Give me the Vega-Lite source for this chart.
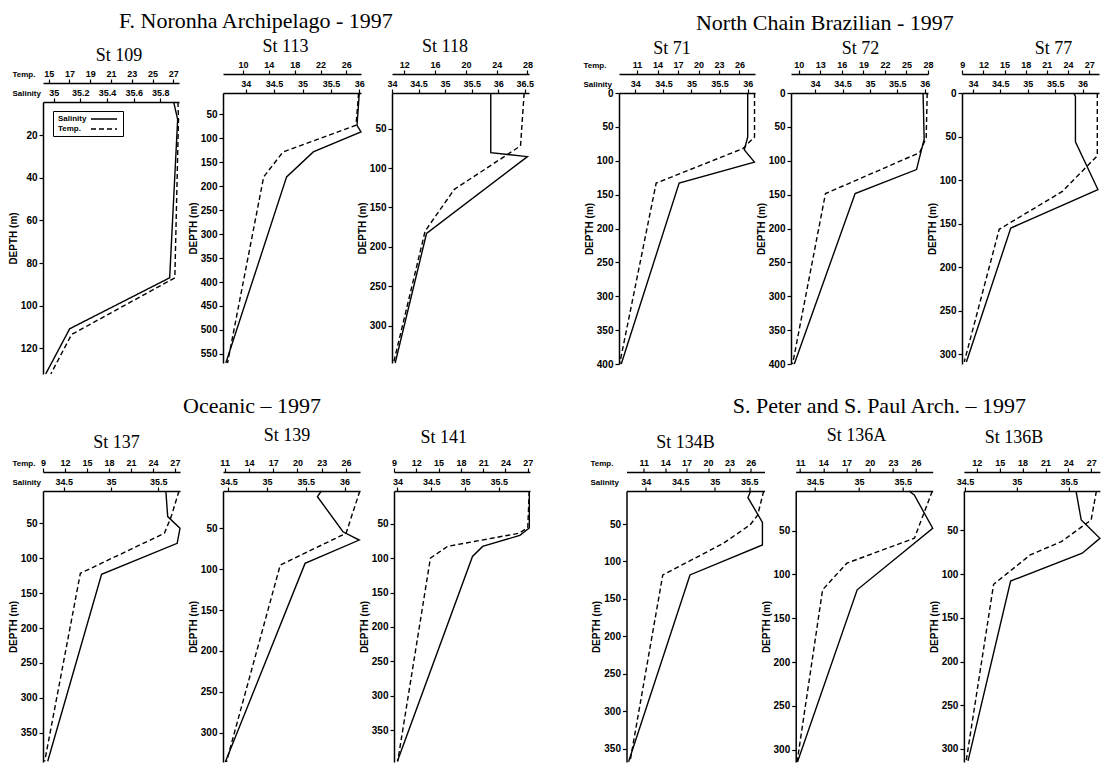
{
"$schema": "https://vega.github.io/schema/vega-lite/v6.json",
"background": "white",
"padding": {"left": 8, "top": 10, "right": 2, "bottom": 2},
"data": {"values": [
{"station":"St 109","var":"Salinity","depth":4.5,"value":35.90},
{"station":"St 109","var":"Salinity","depth":12.7,"value":35.93},
{"station":"St 109","var":"Salinity","depth":86.9,"value":35.87},
{"station":"St 109","var":"Salinity","depth":110.8,"value":35.12},
{"station":"St 109","var":"Salinity","depth":132,"value":34.94},
{"station":"St 109","var":"Temp.","depth":4.5,"value":27.45},
{"station":"St 109","var":"Temp.","depth":12.7,"value":27.5},
{"station":"St 109","var":"Temp.","depth":86.9,"value":27.15},
{"station":"St 109","var":"Temp.","depth":113.5,"value":17.2},
{"station":"St 109","var":"Temp.","depth":132,"value":15.2},
{"station":"St 113","var":"Salinity","depth":5.6,"value":36.0},
{"station":"St 113","var":"Salinity","depth":72.9,"value":35.96},
{"station":"St 113","var":"Salinity","depth":86.8,"value":36.03},
{"station":"St 113","var":"Salinity","depth":128.5,"value":35.19},
{"station":"St 113","var":"Salinity","depth":180.6,"value":34.72},
{"station":"St 113","var":"Salinity","depth":569,"value":33.65},
{"station":"St 113","var":"Temp.","depth":5.6,"value":27.9},
{"station":"St 113","var":"Temp.","depth":72.9,"value":27.5},
{"station":"St 113","var":"Temp.","depth":128.5,"value":16.2},
{"station":"St 113","var":"Temp.","depth":180.6,"value":13.2},
{"station":"St 113","var":"Temp.","depth":569,"value":7.6},
{"station":"St 118","var":"Salinity","depth":5,"value":35.86},
{"station":"St 118","var":"Salinity","depth":80.5,"value":35.86},
{"station":"St 118","var":"Salinity","depth":85.6,"value":36.55},
{"station":"St 118","var":"Salinity","depth":183,"value":34.65},
{"station":"St 118","var":"Salinity","depth":347,"value":34.06},
{"station":"St 118","var":"Temp.","depth":5,"value":27.57},
{"station":"St 118","var":"Temp.","depth":72,"value":27.1},
{"station":"St 118","var":"Temp.","depth":127,"value":18.5},
{"station":"St 118","var":"Temp.","depth":180,"value":14.7},
{"station":"St 118","var":"Temp.","depth":347,"value":10.6},
{"station":"St 71","var":"Salinity","depth":0,"value":36.0},
{"station":"St 71","var":"Salinity","depth":65,"value":36.0},
{"station":"St 71","var":"Salinity","depth":84,"value":35.94},
{"station":"St 71","var":"Salinity","depth":102,"value":36.12},
{"station":"St 71","var":"Salinity","depth":133,"value":34.78},
{"station":"St 71","var":"Salinity","depth":400,"value":33.75},
{"station":"St 71","var":"Temp.","depth":0,"value":28.2},
{"station":"St 71","var":"Temp.","depth":65,"value":28.2},
{"station":"St 71","var":"Temp.","depth":82,"value":26.5},
{"station":"St 71","var":"Temp.","depth":133,"value":13.8},
{"station":"St 71","var":"Temp.","depth":400,"value":8.45},
{"station":"St 72","var":"Salinity","depth":0,"value":35.97},
{"station":"St 72","var":"Salinity","depth":68,"value":35.99},
{"station":"St 72","var":"Salinity","depth":113,"value":35.85},
{"station":"St 72","var":"Salinity","depth":148.5,"value":34.73},
{"station":"St 72","var":"Salinity","depth":400,"value":33.62},
{"station":"St 72","var":"Temp.","depth":0,"value":27.89},
{"station":"St 72","var":"Temp.","depth":66,"value":27.75},
{"station":"St 72","var":"Temp.","depth":88,"value":26.84},
{"station":"St 72","var":"Temp.","depth":148.5,"value":13.72},
{"station":"St 72","var":"Temp.","depth":400,"value":9.14},
{"station":"St 77","var":"Salinity","depth":0,"value":35.84},
{"station":"St 77","var":"Salinity","depth":4,"value":35.87},
{"station":"St 77","var":"Salinity","depth":56,"value":35.87},
{"station":"St 77","var":"Salinity","depth":110.8,"value":36.28},
{"station":"St 77","var":"Salinity","depth":155,"value":34.69},
{"station":"St 77","var":"Salinity","depth":308.6,"value":33.88},
{"station":"St 77","var":"Temp.","depth":0,"value":28.16},
{"station":"St 77","var":"Temp.","depth":72,"value":28.16},
{"station":"St 77","var":"Temp.","depth":113,"value":23.2},
{"station":"St 77","var":"Temp.","depth":156.4,"value":14.24},
{"station":"St 77","var":"Temp.","depth":308.6,"value":9.28},
{"station":"St 137","var":"Salinity","depth":3.7,"value":35.58},
{"station":"St 137","var":"Salinity","depth":40.4,"value":35.6},
{"station":"St 137","var":"Salinity","depth":57.2,"value":35.73},
{"station":"St 137","var":"Salinity","depth":78.7,"value":35.7},
{"station":"St 137","var":"Salinity","depth":123,"value":34.9},
{"station":"St 137","var":"Salinity","depth":391,"value":34.33},
{"station":"St 137","var":"Temp.","depth":3.7,"value":27.56},
{"station":"St 137","var":"Temp.","depth":40.4,"value":26.5},
{"station":"St 137","var":"Temp.","depth":64.3,"value":25.57},
{"station":"St 137","var":"Temp.","depth":121.6,"value":14.1},
{"station":"St 137","var":"Temp.","depth":391,"value":9.23},
{"station":"St 139","var":"Salinity","depth":4.3,"value":35.7},
{"station":"St 139","var":"Salinity","depth":11.2,"value":35.65},
{"station":"St 139","var":"Salinity","depth":54.2,"value":35.98},
{"station":"St 139","var":"Salinity","depth":64.3,"value":36.19},
{"station":"St 139","var":"Salinity","depth":92.9,"value":35.49},
{"station":"St 139","var":"Salinity","depth":336,"value":34.46},
{"station":"St 139","var":"Temp.","depth":4.3,"value":27.7},
{"station":"St 139","var":"Temp.","depth":56,"value":26.0},
{"station":"St 139","var":"Temp.","depth":95,"value":17.87},
{"station":"St 139","var":"Temp.","depth":336,"value":11.22},
{"station":"St 141","var":"Salinity","depth":2.6,"value":35.95},
{"station":"St 141","var":"Salinity","depth":56.3,"value":35.95},
{"station":"St 141","var":"Salinity","depth":67,"value":35.81},
{"station":"St 141","var":"Salinity","depth":83,"value":35.26},
{"station":"St 141","var":"Salinity","depth":97.7,"value":35.11},
{"station":"St 141","var":"Salinity","depth":395,"value":34.0},
{"station":"St 141","var":"Temp.","depth":2.6,"value":27.2},
{"station":"St 141","var":"Temp.","depth":56,"value":27.0},
{"station":"St 141","var":"Temp.","depth":64,"value":25.8},
{"station":"St 141","var":"Temp.","depth":83,"value":16.2},
{"station":"St 141","var":"Temp.","depth":100,"value":13.9},
{"station":"St 141","var":"Temp.","depth":395,"value":9.5},
{"station":"St 134B","var":"Salinity","depth":5.8,"value":35.52},
{"station":"St 134B","var":"Salinity","depth":14.6,"value":35.48},
{"station":"St 134B","var":"Salinity","depth":47.7,"value":35.69},
{"station":"St 134B","var":"Salinity","depth":78,"value":35.69},
{"station":"St 134B","var":"Salinity","depth":118,"value":34.64},
{"station":"St 134B","var":"Salinity","depth":367.7,"value":33.75},
{"station":"St 134B","var":"Temp.","depth":5.8,"value":27.8},
{"station":"St 134B","var":"Temp.","depth":38,"value":26.95},
{"station":"St 134B","var":"Temp.","depth":51,"value":25.9},
{"station":"St 134B","var":"Temp.","depth":76,"value":22.1},
{"station":"St 134B","var":"Temp.","depth":118,"value":13.66},
{"station":"St 134B","var":"Temp.","depth":367.7,"value":9.07},
{"station":"St 136A","var":"Salinity","depth":4.9,"value":35.57},
{"station":"St 136A","var":"Salinity","depth":9.4,"value":35.63},
{"station":"St 136A","var":"Salinity","depth":47.4,"value":35.84},
{"station":"St 136A","var":"Salinity","depth":117.6,"value":34.98},
{"station":"St 136A","var":"Salinity","depth":314,"value":34.3},
{"station":"St 136A","var":"Temp.","depth":4.9,"value":28.1},
{"station":"St 136A","var":"Temp.","depth":58.8,"value":25.78},
{"station":"St 136A","var":"Temp.","depth":87.2,"value":17.04},
{"station":"St 136A","var":"Temp.","depth":117.6,"value":13.9},
{"station":"St 136A","var":"Temp.","depth":314,"value":10.6},
{"station":"St 136B","var":"Salinity","depth":4.8,"value":35.57},
{"station":"St 136B","var":"Salinity","depth":38,"value":35.62},
{"station":"St 136B","var":"Salinity","depth":43.7,"value":35.67},
{"station":"St 136B","var":"Salinity","depth":59,"value":35.8},
{"station":"St 136B","var":"Salinity","depth":76,"value":35.63},
{"station":"St 136B","var":"Salinity","depth":107.8,"value":34.94},
{"station":"St 136B","var":"Salinity","depth":313.7,"value":34.53},
{"station":"St 136B","var":"Temp.","depth":4.8,"value":27.69},
{"station":"St 136B","var":"Temp.","depth":38,"value":27.0},
{"station":"St 136B","var":"Temp.","depth":62.7,"value":23.1},
{"station":"St 136B","var":"Temp.","depth":78,"value":19.0},
{"station":"St 136B","var":"Temp.","depth":111.6,"value":14.2},
{"station":"St 136B","var":"Temp.","depth":313.7,"value":10.6}
]},
"config": {
  "view": {"stroke": null},
  "font": "Liberation Sans",
  "title": {"font": "Liberation Serif", "fontWeight": "normal", "color": "black", "fontSize": 18, "anchor": "middle"},
  "axis": {"domainColor": "black", "tickColor": "black", "labelColor": "black", "titleColor": "black", "labelFont": "Liberation Sans", "labelFontWeight": "bold", "titleFont": "Liberation Sans", "titleFontWeight": "bold", "grid": false, "tickSize": 4, "domainWidth": 1.5, "tickWidth": 1.2, "labelFlush": false, "labelOverlap": false},
  "axisX": {"labelFontSize": 9, "labelPadding": 1, "titleFontSize": 8},
  "axisY": {"labelFontSize": 10, "titleFontSize": 10, "labelPadding": 2, "titlePadding": 2},
  "line": {"color": "black", "strokeWidth": 1.4}
},
"resolve": {"scale": {"strokeDash": "independent"}, "legend": {"strokeDash": "independent"}},
"spacing": 18,
"vconcat": [
 {
  "spacing": 49,
  "resolve": {"scale": {"strokeDash": "independent"}, "legend": {"strokeDash": "independent"}},
  "hconcat": [
   {
    "title": {"text": "F. Noronha Archipelago - 1997", "fontSize": 22, "anchor": "middle", "frame": "bounds", "dx": -15, "offset": 5},
    "spacing": 6,
    "resolve": {"scale": {"strokeDash": "independent"}, "legend": {"strokeDash": "independent"}},
    "hconcat": [
     {
      "vconcat": [
       {"width": 1, "height": 1, "data": {"values": []}, "mark": {"type": "point", "opacity": 0}},
       {
        "title": {"text": "St 109", "offset": 4, "dx": 8, "frame": "group"},
        "width": 136, "height": 272,
        "transform": [{"filter": "datum.station === 'St 109'"}],
        "encoding": {
          "y": {"field": "depth", "type": "quantitative", "scale": {"domain": [4.5, 132], "reverse": true, "nice": false, "zero": false}, "axis": {"title": "DEPTH (m)", "values": [20,40,60,80,100,120]}},
          "order": {"field": "depth", "type": "quantitative"}
        },
        "layer": [
         {"transform": [{"filter": "datum.var === 'Salinity'"}], "mark": "line",
          "encoding": {
            "x": {"field": "value", "type": "quantitative", "scale": {"domain": [34.92, 35.94], "nice": false, "zero": false}, "axis": {"orient": "top", "values": [35,35.2,35.4,35.6,35.8], "format": "~g", "title": "Salinity", "titleX": -31, "titleY": -7, "titleAlign": "left", "titleAngle": 0, "titleBaseline": "alphabetic"}},
            "strokeDash": {"field": "var", "type": "nominal", "scale": {"domain": ["Salinity", "Temp."], "range": [[1,0],[5,3]]},
              "legend": {"orient": "none", "legendX": 10, "legendY": 9, "title": null, "direction": "vertical", "strokeColor": "black", "fillColor": "white", "padding": 3, "symbolType": "M7.5,0H14", "symbolSize": 64, "symbolStrokeWidth": 1.3, "symbolStrokeColor": "black", "symbolFillColor": "transparent", "labelFont": "Liberation Sans", "labelFontWeight": "bold", "labelFontSize": 8, "labelColor": "black", "symbolOffset": 0, "labelOffset": -8, "rowPadding": 1}}
          }},
         {"transform": [{"filter": "datum.var === 'Temp.'"}], "mark": "line",
          "encoding": {
            "x": {"field": "value", "type": "quantitative", "scale": {"domain": [14.45, 27.55], "nice": false, "zero": false}, "axis": {"orient": "top", "offset": 19, "values": [15,17,19,21,23,25,27], "format": "~g", "title": "Temp.", "titleX": -31, "titleY": -7, "titleAlign": "left", "titleAngle": 0, "titleBaseline": "alphabetic"}},
            "strokeDash": {"field": "var", "type": "nominal", "scale": {"domain": ["Salinity", "Temp."], "range": [[1,0],[5,3]]},
              "legend": {"orient": "none", "legendX": 10, "legendY": 9, "title": null, "direction": "vertical", "strokeColor": "black", "fillColor": "white", "padding": 3, "symbolType": "M7.5,0H14", "symbolSize": 64, "symbolStrokeWidth": 1.3, "symbolStrokeColor": "black", "symbolFillColor": "transparent", "labelFont": "Liberation Sans", "labelFontWeight": "bold", "labelFontSize": 8, "labelColor": "black", "symbolOffset": 0, "labelOffset": -8, "rowPadding": 1}}
          }}
        ],
        "resolve": {"scale": {"x": "independent"}}
       }
      ],
      "spacing": 8,
      "bounds": "flush",
      "resolve": {"scale": {"strokeDash": "independent"}, "legend": {"strokeDash": "independent"}}
     },
     {
      "spacing": -8,
      "hconcat": [
       {
        "title": {"text": "St 113", "offset": 4, "dx": -6.5, "frame": "group"},
        "width": 138, "height": 270,
        "transform": [{"filter": "datum.station === 'St 113'"}],
        "encoding": {
          "y": {"field": "depth", "type": "quantitative", "scale": {"domain": [5.6, 569], "reverse": true, "nice": false, "zero": false}, "axis": {"title": "DEPTH (m)", "values": [50,100,150,200,250,300,350,400,450,500,550]}},
          "order": {"field": "depth", "type": "quantitative"}
        },
        "layer": [
         {"transform": [{"filter": "datum.var === 'Salinity'"}], "mark": "line",
          "encoding": {"x": {"field": "value", "type": "quantitative", "scale": {"domain": [33.6, 36.03], "nice": false, "zero": false}, "axis": {"orient": "top", "values": [34,34.5,35,35.5,36], "format": "~g", "title": null}}}},
         {"transform": [{"filter": "datum.var === 'Temp.'"}], "mark": {"type": "line", "strokeDash": [5,3]},
          "encoding": {"x": {"field": "value", "type": "quantitative", "scale": {"domain": [6.9, 28.27], "nice": false, "zero": false}, "axis": {"orient": "top", "offset": 19, "values": [10,14,18,22,26], "format": "~g", "title": null}}}}
        ],
        "resolve": {"scale": {"x": "independent"}}
       },
       {
        "title": {"text": "St 118", "offset": 4, "dx": -15.5, "frame": "group"},
        "width": 137, "height": 270,
        "transform": [{"filter": "datum.station === 'St 118'"}],
        "encoding": {
          "y": {"field": "depth", "type": "quantitative", "scale": {"domain": [5, 347], "reverse": true, "nice": false, "zero": false}, "axis": {"title": "DEPTH (m)", "values": [50,100,150,200,250,300]}},
          "order": {"field": "depth", "type": "quantitative"}
        },
        "layer": [
         {"transform": [{"filter": "datum.var === 'Salinity'"}], "mark": "line",
          "encoding": {"x": {"field": "value", "type": "quantitative", "scale": {"domain": [34.0, 36.58], "nice": false, "zero": false}, "axis": {"orient": "top", "values": [34,34.5,35,35.5,36,36.5], "format": "~g", "title": null}}}},
         {"transform": [{"filter": "datum.var === 'Temp.'"}], "mark": {"type": "line", "strokeDash": [5,3]},
          "encoding": {"x": {"field": "value", "type": "quantitative", "scale": {"domain": [10.4, 28.2], "nice": false, "zero": false}, "axis": {"orient": "top", "offset": 19, "values": [12,16,20,24,28], "format": "~g", "title": null}}}}
        ],
        "resolve": {"scale": {"x": "independent"}}
       }
      ]
     }
    ]
   },
   {
    "title": {"text": "North Chain Brazilian - 1997", "fontSize": 22, "anchor": "middle", "frame": "bounds", "dx": -17, "offset": 5},
    "spacing": -2,
    "hconcat": [
     {
      "title": {"text": "St 71", "offset": 2, "dx": -15, "frame": "group"},
      "width": 136, "height": 271,
      "transform": [{"filter": "datum.station === 'St 71'"}],
      "encoding": {
        "y": {"field": "depth", "type": "quantitative", "scale": {"domain": [0, 400], "reverse": true, "nice": false, "zero": false}, "axis": {"title": "DEPTH (m)", "values": [0,50,100,150,200,250,300,350,400]}},
        "order": {"field": "depth", "type": "quantitative"}
      },
      "layer": [
       {"transform": [{"filter": "datum.var === 'Salinity'"}], "mark": "line",
        "encoding": {"x": {"field": "value", "type": "quantitative", "scale": {"domain": [33.71, 36.13], "nice": false, "zero": false}, "axis": {"orient": "top", "values": [34,34.5,35,35.5,36], "format": "~g", "title": "Salinity", "titleX": -36, "titleY": -7, "titleAlign": "left", "titleAngle": 0, "titleBaseline": "alphabetic"}}}},
       {"transform": [{"filter": "datum.var === 'Temp.'"}], "mark": {"type": "line", "strokeDash": [5,3]},
        "encoding": {"x": {"field": "value", "type": "quantitative", "scale": {"domain": [8.36, 28.27], "nice": false, "zero": false}, "axis": {"orient": "top", "offset": 19, "values": [11,14,17,20,23,26], "format": "~g", "title": "Temp.", "titleX": -36, "titleY": -7, "titleAlign": "left", "titleAngle": 0, "titleBaseline": "alphabetic"}}}}
      ],
      "resolve": {"scale": {"x": "independent"}}
     },
     {
      "spacing": -7,
      "hconcat": [
       {
        "title": {"text": "St 72", "offset": 2, "dx": 1, "frame": "group"},
        "width": 137, "height": 271,
        "transform": [{"filter": "datum.station === 'St 72'"}],
        "encoding": {
          "y": {"field": "depth", "type": "quantitative", "scale": {"domain": [0, 400], "reverse": true, "nice": false, "zero": false}, "axis": {"title": "DEPTH (m)", "values": [0,50,100,150,200,250,300,350,400]}},
          "order": {"field": "depth", "type": "quantitative"}
        },
        "layer": [
         {"transform": [{"filter": "datum.var === 'Salinity'"}], "mark": "line",
          "encoding": {"x": {"field": "value", "type": "quantitative", "scale": {"domain": [33.56, 36.06], "nice": false, "zero": false}, "axis": {"orient": "top", "values": [34,34.5,35,35.5,36], "format": "~g", "title": null}}}},
         {"transform": [{"filter": "datum.var === 'Temp.'"}], "mark": {"type": "line", "strokeDash": [5,3]},
          "encoding": {"x": {"field": "value", "type": "quantitative", "scale": {"domain": [8.92, 28.0], "nice": false, "zero": false}, "axis": {"orient": "top", "offset": 19, "values": [10,13,16,19,22,25,28], "format": "~g", "title": null}}}}
        ],
        "resolve": {"scale": {"x": "independent"}}
       },
       {
        "title": {"text": "St 77", "offset": 2, "dx": 23, "frame": "group"},
        "width": 137, "height": 271,
        "transform": [{"filter": "datum.station === 'St 77'"}],
        "encoding": {
          "y": {"field": "depth", "type": "quantitative", "scale": {"domain": [0, 311], "reverse": true, "nice": false, "zero": false}, "axis": {"title": "DEPTH (m)", "values": [0,50,100,150,200,250,300]}},
          "order": {"field": "depth", "type": "quantitative"}
        },
        "layer": [
         {"transform": [{"filter": "datum.var === 'Salinity'"}], "mark": "line",
          "encoding": {"x": {"field": "value", "type": "quantitative", "scale": {"domain": [33.8, 36.3], "nice": false, "zero": false}, "axis": {"orient": "top", "values": [34,34.5,35,35.5,36], "format": "~g", "title": null}}}},
         {"transform": [{"filter": "datum.var === 'Temp.'"}], "mark": {"type": "line", "strokeDash": [5,3]},
          "encoding": {"x": {"field": "value", "type": "quantitative", "scale": {"domain": [8.96, 28.4], "nice": false, "zero": false}, "axis": {"orient": "top", "offset": 19, "values": [9,12,15,18,21,24,27], "format": "~g", "title": null}}}}
        ],
        "resolve": {"scale": {"x": "independent"}}
       }
      ]
     }
    ]
   }
  ]
 },
 {
  "spacing": 56.5,
  "hconcat": [
   {
    "title": {"text": "Oceanic – 1997", "fontSize": 22, "anchor": "middle", "frame": "bounds", "dx": -18.5, "offset": 9},
    "spacing": 5,
    "hconcat": [
     {
      "title": {"text": "St 137", "offset": 6.5, "dx": 5, "frame": "group"},
      "width": 137, "height": 271,
      "transform": [{"filter": "datum.station === 'St 137'"}],
      "encoding": {
        "y": {"field": "depth", "type": "quantitative", "scale": {"domain": [3.7, 392], "reverse": true, "nice": false, "zero": false}, "axis": {"title": "DEPTH (m)", "values": [50,100,150,200,250,300,350]}},
        "order": {"field": "depth", "type": "quantitative"}
      },
      "layer": [
       {"transform": [{"filter": "datum.var === 'Salinity'"}], "mark": "line",
        "encoding": {"x": {"field": "value", "type": "quantitative", "scale": {"domain": [34.28, 35.73], "nice": false, "zero": false}, "axis": {"orient": "top", "values": [34.5,35,35.5], "format": "~g", "title": "Salinity", "titleX": -31, "titleY": -7, "titleAlign": "left", "titleAngle": 0, "titleBaseline": "alphabetic"}}}},
       {"transform": [{"filter": "datum.var === 'Temp.'"}], "mark": {"type": "line", "strokeDash": [5,3]},
        "encoding": {"x": {"field": "value", "type": "quantitative", "scale": {"domain": [9.0, 27.7], "nice": false, "zero": false}, "axis": {"orient": "top", "offset": 19, "values": [9,12,15,18,21,24,27], "format": "~g", "title": "Temp.", "titleX": -31, "titleY": -7, "titleAlign": "left", "titleAngle": 0, "titleBaseline": "alphabetic"}}}}
      ],
      "resolve": {"scale": {"x": "independent"}}
     },
     {
      "spacing": -4,
      "hconcat": [
       {
        "title": {"text": "St 139", "offset": 12.8, "dx": -4.4, "frame": "group"},
        "width": 137, "height": 271,
        "transform": [{"filter": "datum.station === 'St 139'"}],
        "encoding": {
          "y": {"field": "depth", "type": "quantitative", "scale": {"domain": [4.3, 336], "reverse": true, "nice": false, "zero": false}, "axis": {"title": "DEPTH (m)", "values": [50,100,150,200,250,300]}},
          "order": {"field": "depth", "type": "quantitative"}
        },
        "layer": [
         {"transform": [{"filter": "datum.var === 'Salinity'"}], "mark": "line",
          "encoding": {"x": {"field": "value", "type": "quantitative", "scale": {"domain": [34.43, 36.2], "nice": false, "zero": false}, "axis": {"orient": "top", "values": [34.5,35,35.5,36], "format": "~g", "title": null}}}},
         {"transform": [{"filter": "datum.var === 'Temp.'"}], "mark": {"type": "line", "strokeDash": [5,3]},
          "encoding": {"x": {"field": "value", "type": "quantitative", "scale": {"domain": [10.8, 27.72], "nice": false, "zero": false}, "axis": {"orient": "top", "offset": 19, "values": [11,14,17,20,23,26], "format": "~g", "title": null}}}}
        ],
        "resolve": {"scale": {"x": "independent"}}
       },
       {
        "title": {"text": "St 141", "offset": 11, "dx": -18.3, "frame": "group"},
        "width": 136, "height": 271,
        "transform": [{"filter": "datum.station === 'St 141'"}],
        "encoding": {
          "y": {"field": "depth", "type": "quantitative", "scale": {"domain": [2.6, 396], "reverse": true, "nice": false, "zero": false}, "axis": {"title": "DEPTH (m)", "values": [50,100,150,200,250,300,350]}},
          "order": {"field": "depth", "type": "quantitative"}
        },
        "layer": [
         {"transform": [{"filter": "datum.var === 'Salinity'"}], "mark": "line",
          "encoding": {"x": {"field": "value", "type": "quantitative", "scale": {"domain": [33.95, 35.96], "nice": false, "zero": false}, "axis": {"orient": "top", "values": [34,34.5,35,35.5], "format": "~g", "title": null}}}},
         {"transform": [{"filter": "datum.var === 'Temp.'"}], "mark": {"type": "line", "strokeDash": [5,3]},
          "encoding": {"x": {"field": "value", "type": "quantitative", "scale": {"domain": [9.0, 27.3], "nice": false, "zero": false}, "axis": {"orient": "top", "offset": 19, "values": [9,12,15,18,21,24,27], "format": "~g", "title": null}}}}
        ],
        "resolve": {"scale": {"x": "independent"}}
       }
      ]
     }
    ]
   },
   {
    "title": {"text": "S. Peter and S. Paul Arch. – 1997", "fontSize": 22, "anchor": "middle", "frame": "bounds", "dx": 33, "offset": 9},
    "spacing": -6.8,
    "hconcat": [
     {
      "title": {"text": "St 134B", "offset": 6, "dx": -10, "frame": "group"},
      "width": 138, "height": 271,
      "transform": [{"filter": "datum.station === 'St 134B'"}],
      "encoding": {
        "y": {"field": "depth", "type": "quantitative", "scale": {"domain": [5.8, 368], "reverse": true, "nice": false, "zero": false}, "axis": {"title": "DEPTH (m)", "values": [50,100,150,200,250,300,350]}},
        "order": {"field": "depth", "type": "quantitative"}
      },
      "layer": [
       {"transform": [{"filter": "datum.var === 'Salinity'"}], "mark": "line",
        "encoding": {"x": {"field": "value", "type": "quantitative", "scale": {"domain": [33.72, 35.72], "nice": false, "zero": false}, "axis": {"orient": "top", "values": [34,34.5,35,35.5], "format": "~g", "title": "Salinity", "titleX": -36.5, "titleY": -7, "titleAlign": "left", "titleAngle": 0, "titleBaseline": "alphabetic"}}}},
       {"transform": [{"filter": "datum.var === 'Temp.'"}], "mark": {"type": "line", "strokeDash": [5,3]},
        "encoding": {"x": {"field": "value", "type": "quantitative", "scale": {"domain": [8.58, 27.91], "nice": false, "zero": false}, "axis": {"orient": "top", "offset": 19, "values": [11,14,17,20,23,26], "format": "~g", "title": "Temp.", "titleX": -36.5, "titleY": -7, "titleAlign": "left", "titleAngle": 0, "titleBaseline": "alphabetic"}}}}
      ],
      "resolve": {"scale": {"x": "independent"}}
     },
     {
      "title": {"text": "St 136A", "offset": 12.8, "dx": -7.7, "frame": "group"},
      "width": 137, "height": 271,
      "transform": [{"filter": "datum.station === 'St 136A'"}],
      "encoding": {
        "y": {"field": "depth", "type": "quantitative", "scale": {"domain": [4.9, 314], "reverse": true, "nice": false, "zero": false}, "axis": {"title": "DEPTH (m)", "values": [50,100,150,200,250,300]}},
        "order": {"field": "depth", "type": "quantitative"}
      },
      "layer": [
       {"transform": [{"filter": "datum.var === 'Salinity'"}], "mark": "line",
        "encoding": {"x": {"field": "value", "type": "quantitative", "scale": {"domain": [34.28, 35.84], "nice": false, "zero": false}, "axis": {"orient": "top", "values": [34.5,35,35.5], "format": "~g", "title": null}}}},
       {"transform": [{"filter": "datum.var === 'Temp.'"}], "mark": {"type": "line", "strokeDash": [5,3]},
        "encoding": {"x": {"field": "value", "type": "quantitative", "scale": {"domain": [10.42, 28.15], "nice": false, "zero": false}, "axis": {"orient": "top", "offset": 19, "values": [11,14,17,20,23,26], "format": "~g", "title": null}}}}
      ],
      "resolve": {"scale": {"x": "independent"}}
     },
     {
      "title": {"text": "St 136B", "offset": 11, "dx": -18, "frame": "group"},
      "width": 136, "height": 271,
      "transform": [{"filter": "datum.station === 'St 136B'"}],
      "encoding": {
        "y": {"field": "depth", "type": "quantitative", "scale": {"domain": [4.8, 315], "reverse": true, "nice": false, "zero": false}, "axis": {"title": "DEPTH (m)", "values": [50,100,150,200,250,300]}},
        "order": {"field": "depth", "type": "quantitative"}
      },
      "layer": [
       {"transform": [{"filter": "datum.var === 'Salinity'"}], "mark": "line",
        "encoding": {"x": {"field": "value", "type": "quantitative", "scale": {"domain": [34.49, 35.8], "nice": false, "zero": false}, "axis": {"orient": "top", "values": [34.5,35,35.5], "format": "~g", "title": null}}}},
       {"transform": [{"filter": "datum.var === 'Temp.'"}], "mark": {"type": "line", "strokeDash": [5,3]},
        "encoding": {"x": {"field": "value", "type": "quantitative", "scale": {"domain": [10.3, 28.15], "nice": false, "zero": false}, "axis": {"orient": "top", "offset": 19, "values": [12,15,18,21,24,27], "format": "~g", "title": null}}}}
      ],
      "resolve": {"scale": {"x": "independent"}}
     }
    ]
   }
  ]
 }
]
}
